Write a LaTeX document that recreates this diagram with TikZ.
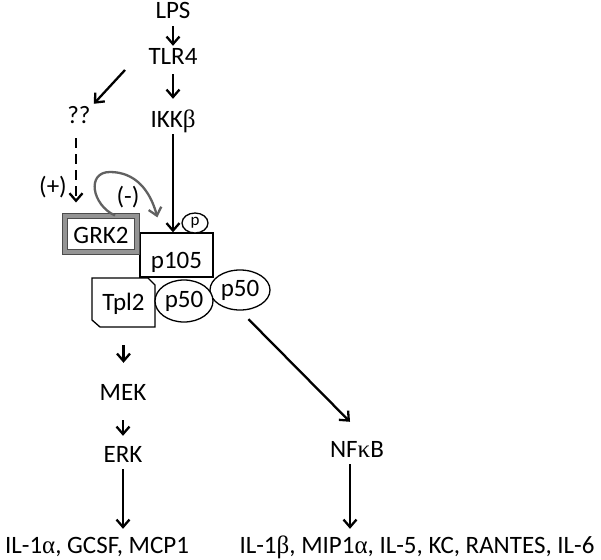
\documentclass[tikz,border=0pt]{standalone}
\usepackage{fontspec}
\setmainfont{Carlito}
\newfontfamily\grk{Liberation Serif}
\usetikzlibrary{arrows.meta,shapes.geometric}

\tikzset{
  lbl/.style={font=\fontsize{25}{28}\selectfont, anchor=base, inner sep=3pt,
    text height=16pt, text depth=4pt},
  arr/.style={line width=2.3pt, -{Straight Barb[length=7.5pt,width=13pt]}},
  garr/.style={arr, draw=black!62},
  box/.style={draw, line width=1.3pt, fill=white, inner sep=0pt,
    font=\fontsize{25}{28}\selectfont},
  blob/.style={ellipse, draw, line width=1.3pt, fill=white, inner sep=0pt,
    font=\fontsize{25}{28}\selectfont, text height=16pt, text depth=4pt},
}

\begin{document}
\begin{tikzpicture}[x=1pt,y=-1pt]
  \useasboundingbox (0,0) rectangle (601,559);

  % top of the pathway
  \node[lbl] (lps) at (173,19) {LPS};
  \node[lbl] (tlr4) at (173,65) {TLR4};
  \node[lbl] (ikk) at (173,127) {IKK{\grk β}};
  \node[lbl] (qq) at (79,123) {??};
  \coordinate (split) at (125,70);

  % the complex
  \node[box, minimum width=73pt, minimum height=44pt,
    text height=30pt, text depth=4pt] (p105) at (176.5,255) {p105};
  \node[blob, minimum width=60pt, minimum height=40pt] (p50b) at (240,290) {p50};
  \node[blob, minimum width=26pt, minimum height=20pt,
    font=\fontsize{17}{19}\selectfont, text height=8pt, text depth=4pt] (pp) at (195,223) {p};
  \filldraw[fill=white, line width=1.3pt] (92,278) -- (148,278) -- (155,285)
    -- (155,327) -- (100,327) -- (92,320) -- cycle;
  \node[lbl, inner sep=0pt, text height=25pt, text depth=17pt] (tpl2) at (123.5,310) {Tpl2};
  \node[blob, minimum width=58pt, minimum height=42pt] (p50a) at (184,301) {p50};
  \node[box, draw=black!70, double=black!42, double distance=4pt, line width=1pt,
    minimum width=72pt, minimum height=36pt, text height=22pt, text depth=4pt]
    (grk2) at (101,234) {GRK2};
  \node[lbl] (plus) at (53,194) {(+)};
  \node[lbl] (minus) at (128,204) {(-)};

  % lower part
  \node[lbl] (mek) at (123,400) {MEK};
  \node[lbl] (erk) at (123,462) {ERK};
  \node[lbl] (nfkb) at (357,457) {NF{\grk κ}B};
  \node[lbl] (outl) at (97,553) {IL-1{\grk α}, GCSF, MCP1};
  \node[lbl] (outr) at (417,553) {IL-1{\grk β}, MIP1{\grk α}, IL-5, KC, RANTES, IL-6};

  \draw[arr] (lps) -- (tlr4);
  \draw[arr, shorten <=2pt, shorten >=9pt] (tlr4) -- (ikk);
  \draw[arr] (ikk) -- (ikk |- p105.north);
  \draw[arr] (split) -- (qq.north east);
  \draw[arr, dash pattern=on 10pt off 6pt, shorten <=8pt, shorten >=13pt]
    ([xshift=-3pt]qq.south) -- ([xshift=-3pt]qq.south |- grk2.north);
  \draw[garr] ([xshift=14pt]grk2.north) .. controls (92,205) and (86,172) .. (110,172)
    .. controls (135,172) and (150,190) .. ([xshift=18pt,yshift=15pt]p105.north west);
  \draw[arr, shorten <=18pt, shorten >=18pt] (tpl2) -- (tpl2 |- mek.north);
  \draw[arr, shorten <=13pt, shorten >=7pt] (mek) -- (erk);
  \draw[arr, shorten >=5pt] (erk) -- (erk |- outl.north);
  \draw[arr, shorten <=12pt] (p50b.south) -- ([xshift=-7pt,yshift=16pt]nfkb.north);
  \draw[arr, shorten >=5pt] ([xshift=-7pt]nfkb.south) -- ([xshift=-7pt]nfkb.south |- outr.north);
\end{tikzpicture}
\end{document}
